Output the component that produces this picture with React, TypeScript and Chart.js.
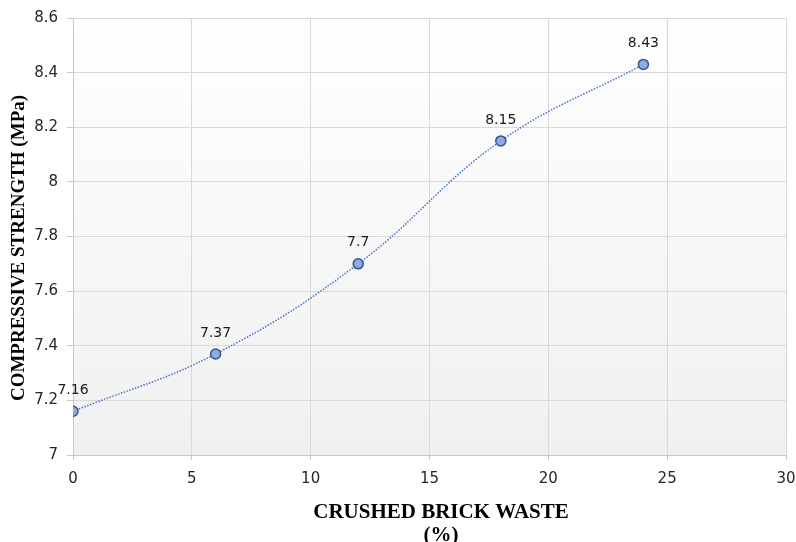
import React, { useEffect, useRef } from "react";
import { Chart, registerables } from "chart.js";

Chart.register(...registerables);

const xValues = [0, 6, 12, 18, 24];
const strength = [7.16, 7.37, 7.7, 8.15, 8.43];
const xTicks = [0, 5, 10, 15, 20, 25, 30];
const yTicks = [7, 7.2, 7.4, 7.6, 7.8, 8, 8.2, 8.4, 8.6];
const yTitle = "COMPRESSIVE STRENGTH (MPa)";
const xTitleLines = ["CRUSHED BRICK WASTE", "(%)"];

const bgPlugin = {
  id: "bgGradient",
  beforeDraw(chart: any) {
    const { ctx, chartArea } = chart;
    if (!chartArea) return;
    const g = ctx.createLinearGradient(0, chartArea.top, 0, chartArea.bottom);
    g.addColorStop(0, "#ffffff");
    g.addColorStop(1, "#f0f0f0");
    ctx.save();
    ctx.fillStyle = g;
    ctx.fillRect(chartArea.left, chartArea.top, chartArea.right - chartArea.left, chartArea.bottom - chartArea.top);
    ctx.restore();
  },
};

const labelPlugin = {
  id: "labelsAndTitles",
  afterDatasetsDraw(chart: any) {
    const { ctx } = chart;
    const meta = chart.getDatasetMeta(0);
    ctx.save();
    ctx.font = "14px 'DejaVu Sans'";
    ctx.fillStyle = "#1a1a1a";
    ctx.textAlign = "center";
    ctx.textBaseline = "middle";
    meta.data.forEach((pt: any, i: number) => {
      ctx.fillText(String(strength[i]), pt.x, pt.y - 21);
    });
    ctx.restore();
  },
  afterDraw(chart: any) {
    const { ctx } = chart;
    ctx.save();
    ctx.fillStyle = "#000000";
    ctx.textAlign = "center";
    ctx.textBaseline = "middle";
    ctx.font = "bold 19px 'Liberation Serif'";
    ctx.translate(19, 248);
    ctx.rotate(-Math.PI / 2);
    ctx.fillText(yTitle, 0, 0);
    ctx.restore();
    ctx.save();
    ctx.fillStyle = "#000000";
    ctx.textAlign = "center";
    ctx.textBaseline = "middle";
    ctx.font = "bold 21px 'Liberation Serif'";
    const cx = 441;
    ctx.fillText(xTitleLines[0], cx, 513);
    ctx.fillText(xTitleLines[1], cx, 536);
    ctx.restore();
  },
};

export default function App() {
  const ref = useRef<HTMLCanvasElement | null>(null);
  useEffect(() => {
    document.body.style.margin = "0";
    const canvas = ref.current;
    if (!canvas) return;
    const chart = new Chart(canvas, {
      type: "line",
      data: {
        datasets: [
          {
            data: xValues.map((x, i) => ({ x, y: strength[i] })),
            borderColor: "#4472c4",
            borderWidth: 1.5,
            borderDash: [1.5, 1.5],
            tension: 0.4,
            pointRadius: 5,
            pointBackgroundColor: "#8faadc",
            pointBorderColor: "#2f5597",
            pointBorderWidth: 1.5,
          },
        ],
      },
      options: {
        animation: false,
        responsive: false,
        maintainAspectRatio: false,
        layout: { padding: { left: 0, right: 10, top: 18, bottom: 0 } },
        plugins: { legend: { display: false }, tooltip: { enabled: false } },
        scales: {
          x: {
            type: "linear",
            min: 0,
            max: 30,
            afterBuildTicks: (scale: any) => {
              scale.ticks = xTicks.map((v) => ({ value: v }));
            },
            afterFit: (scale: any) => {
              scale.height = 87;
              scale.paddingLeft = 0;
              scale.paddingRight = 0;
            },
            grid: { color: "#d9d9d9", tickLength: 5, tickColor: "#c8c8c8" },
            border: { color: "#c8c8c8" },
            ticks: {
              padding: 10,
              color: "#262626",
              font: { family: "'DejaVu Sans'", size: 15 },
              maxRotation: 0,
            },
          },
          y: {
            type: "linear",
            min: 7,
            max: 8.6,
            afterBuildTicks: (scale: any) => {
              scale.ticks = yTicks.map((v) => ({ value: v }));
            },
            afterFit: (scale: any) => {
              scale.width = 73;
              scale.paddingTop = 0;
              scale.paddingBottom = 0;
            },
            grid: { color: "#d9d9d9", tickLength: 6, tickColor: "#c8c8c8" },
            border: { color: "#c8c8c8" },
            ticks: {
              padding: 9,
              color: "#262626",
              font: { family: "'DejaVu Sans'", size: 15 },
              callback: (v: any) => String(Math.round(Number(v) * 10) / 10),
            },
          },
        },
      },
      plugins: [bgPlugin, labelPlugin],
    });
    return () => chart.destroy();
  }, []);
  return (
    <div style={{ width: 796, height: 542 }}>
      <canvas ref={ref} width={796} height={542} style={{ width: 796, height: 542 }} />
    </div>
  );
}
